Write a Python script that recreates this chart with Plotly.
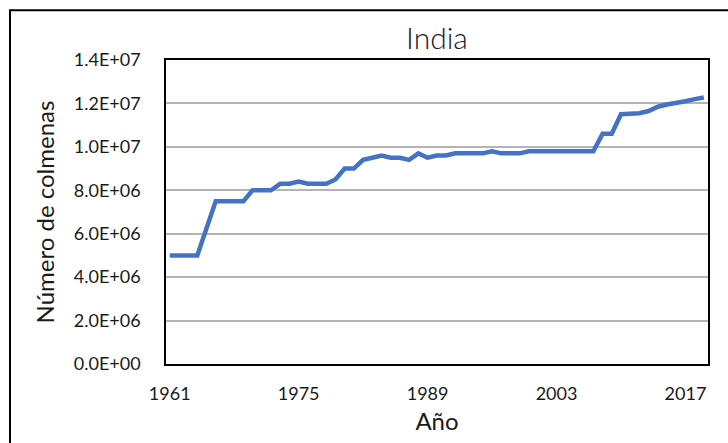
import plotly.graph_objects as go

# Número de colmenas en India, 1961-2019
years = list(range(1961, 2020))
colmenas = [
    5.0e6, 5.0e6, 5.0e6, 5.0e6, 6.25e6, 7.5e6, 7.5e6, 7.5e6, 7.5e6, 8.0e6,   # 1961-1970
    8.0e6, 8.0e6, 8.3e6, 8.3e6, 8.4e6, 8.3e6, 8.3e6, 8.3e6, 8.5e6, 9.0e6,    # 1971-1980
    9.0e6, 9.4e6, 9.5e6, 9.6e6, 9.5e6, 9.5e6, 9.4e6, 9.7e6, 9.5e6, 9.6e6,    # 1981-1990
    9.6e6, 9.7e6, 9.7e6, 9.7e6, 9.7e6, 9.8e6, 9.7e6, 9.7e6, 9.7e6, 9.8e6,    # 1991-2000
    9.8e6, 9.8e6, 9.8e6, 9.8e6, 9.8e6, 9.8e6, 9.8e6, 10.6e6, 10.6e6, 11.5e6, # 2001-2010
    11.5e6, 11.55e6, 11.65e6, 11.85e6, 11.95e6, 12.0e6, 12.1e6, 12.2e6, 12.27e6,  # 2011-2019
]

x_ticks = [1961, 1975, 1989, 2003, 2017]
y_ticks = [0, 2e6, 4e6, 6e6, 8e6, 10e6, 12e6, 14e6]
y_tick_labels = ["0.0E+00", "2.0E+06", "4.0E+06", "6.0E+06",
                 "8.0E+06", "1.0E+07", "1.2E+07", "1.4E+07"]

FONT = "Lato, Carlito, Calibri, sans-serif"
TEXT = "#1a1a1a"

fig = go.Figure(
    go.Scatter(
        x=years, y=colmenas, mode="lines",
        line=dict(color="#4472C4", width=4.5),
        showlegend=False, hoverinfo="x+y",
    )
)

fig.update_layout(
    width=728, height=443,
    margin=dict(l=166, r=20, t=60, b=77),
    paper_bgcolor="white", plot_bgcolor="white",
    font=dict(family=FONT, color=TEXT, size=18),
    title=dict(text="India", x=0.5, xref="paper", xanchor="center",
               y=0.912, yanchor="middle",
               font=dict(family=FONT, size=30, color=TEXT, weight=300)),
    xaxis=dict(
        range=[1960.6, 2019.45], tickvals=x_ticks,
        showgrid=False, zeroline=False, ticks="",
        showline=True, linecolor="black", linewidth=1.5, mirror=True,
        tickfont=dict(size=18), ticklabelstandoff=13,
        title=dict(text="Año", font=dict(size=24), standoff=10),
    ),
    yaxis=dict(
        range=[0, 1.4e7], tickvals=y_ticks, ticktext=y_tick_labels,
        showgrid=True, gridcolor="#b4b4b4", gridwidth=1.5,
        zeroline=False, ticks="",
        showline=True, linecolor="black", linewidth=1.5, mirror=True,
        tickfont=dict(size=18), ticklabelstandoff=20,
        title=dict(text="Número de colmenas", font=dict(size=24), standoff=12),
    ),
    shapes=[
        # outer chart frame (only top and left edges fall inside the page)
        dict(type="rect", xref="paper", yref="paper",
             x0=(10 - 166) / 542, x1=1.3, y0=-0.6, y1=(366 - 10) / 306,
             line=dict(color="black", width=2), fillcolor="rgba(0,0,0,0)",
             layer="below"),
    ],
)

fig.write_html("out.html")
